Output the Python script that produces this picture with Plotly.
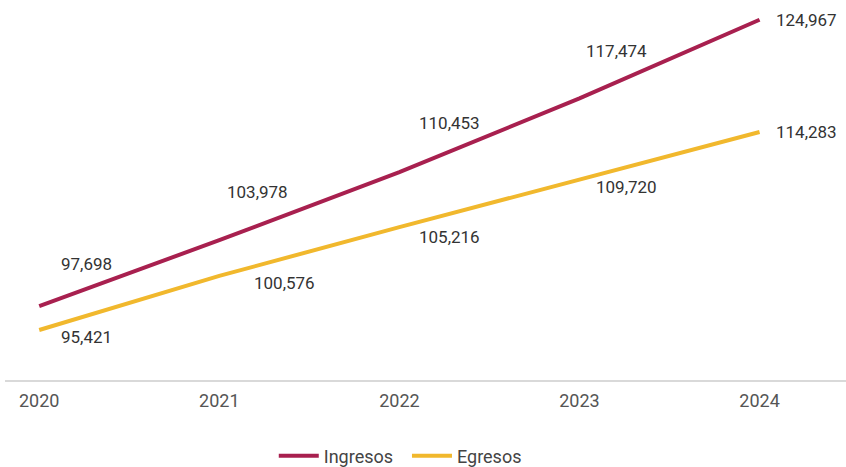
import plotly.graph_objects as go

years = [2020, 2021, 2022, 2023, 2024]
ingresos = [97698, 103978, 110453, 117474, 124967]
egresos = [95421, 100576, 105216, 109720, 114283]

COL_ING = "#a8204f"
COL_EGR = "#f1b82d"
FONT = "Roboto"

# label offsets (px) relative to each point: (dx, dy)
ing_off = [(47, 42), (38, 48), (50, 49), (37, 47), (47, 0)]
egr_off = [(47, -7), (65, -7), (50, -10), (47, -7), (47, 0)]

fig = go.Figure()
fig.add_trace(go.Scatter(x=years, y=ingresos, mode="lines", name="Ingresos  ",
                         line=dict(color=COL_ING, width=4)))
fig.add_trace(go.Scatter(x=years, y=egresos, mode="lines", name="Egresos",
                         line=dict(color=COL_EGR, width=4)))

for series, offs in ((ingresos, ing_off), (egresos, egr_off)):
    for x, v, (dx, dy) in zip(years, series, offs):
        fig.add_annotation(x=x, y=v, text=f"{v:,}", showarrow=False,
                           xshift=dx, yshift=dy, xanchor="center", yanchor="middle",
                           font=dict(family=FONT, size=17, color="#333333"))

fig.update_layout(
    width=846, height=467,
    margin=dict(l=5, r=0, t=0, b=87, autoexpand=False),
    paper_bgcolor="white", plot_bgcolor="white",
    font=dict(family=FONT, size=16, color="#555555"),
    showlegend=True,
    legend=dict(orientation="h", x=0.47, xanchor="center", y=-0.2, yanchor="middle",
                font=dict(family=FONT, size=18, color="#444444"),
                itemwidth=40, tracegroupgap=0),
    xaxis=dict(range=[2019.81, 2024.48], tickvals=years, ticktext=[str(y) for y in years],
               showgrid=False, zeroline=False, showline=True, linecolor="#d9d9d9", linewidth=2,
               ticks="outside", ticklen=3, tickcolor="rgba(0,0,0,0)",
               tickfont=dict(family=FONT, size=18, color="#555555")),
    yaxis=dict(range=[90660, 126850], visible=False, showgrid=False, zeroline=False),
)

fig.write_html("out.html")
